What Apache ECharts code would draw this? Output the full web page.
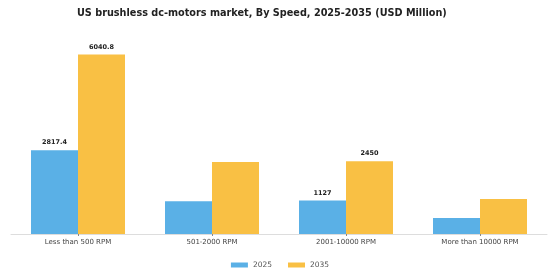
<!DOCTYPE html>
<html>
<head>
<meta charset="utf-8">
<script src="https://cdn.jsdelivr.net/npm/echarts@6/dist/echarts.min.js"></script>
<style>
  html, body { margin: 0; padding: 0; background: #fff; }
  #chart { width: 560px; height: 280px; }
</style>
</head>
<body>
<div id="chart"></div>
<script>
var categories = ['Less than 500 RPM', '501-2000 RPM', '2001-10000 RPM', 'More than 10000 RPM']
var v2025 = [2817.4, 1105, 1127, 540]
var v2035 = [6040.8, 2420, 2450, 1180]
// which bars carry a value label
var labeled = [true, false, true, false]

function withLabels(arr) {
  return arr.map(function (v, i) {
    return { value: v, label: { show: labeled[i] } }
  })
}

var chart = echarts.init(document.getElementById('chart'))
var labelStyle = {
  position: 'top',
  fontSize: 6.5,
  fontWeight: 'bold',
  color: '#222',
  fontFamily: 'DejaVu Sans',
  distance: 4
}
chart.setOption({
  animation: false,
  title: {
    text: 'US brushless dc-motors market, By Speed, 2025-2035 (USD Million)',
    left: 72,
    top: 3,
    textStyle: { fontSize: 9.7, fontWeight: 'bold', color: '#222', fontFamily: 'DejaVu Sans' }
  },
  legend: {
    bottom: 6,
    left: 'center',
    itemWidth: 17,
    itemHeight: 5,
    itemGap: 16,
    icon: 'rect',
    textStyle: { fontSize: 7.5, color: '#555', fontFamily: 'DejaVu Sans' },
    data: ['2025', '2035']
  },
  grid: { left: 11, right: 13, top: 26, bottom: 46 },
  xAxis: {
    type: 'category',
    data: categories,
    axisLine: { lineStyle: { color: '#ddd' } },
    axisTick: { show: true, alignWithLabel: true, length: 2, lineStyle: { color: '#888' } },
    axisLabel: { fontSize: 7, color: '#444', margin: 5, interval: 0, fontFamily: 'DejaVu Sans' }
  },
  yAxis: {
    type: 'value',
    min: 0,
    max: 7000,
    show: false,
    splitLine: { show: false }
  },
  series: [
    {
      name: '2025',
      type: 'bar',
      barWidth: 47,
      barGap: '0%',
      itemStyle: { color: '#5AB0E6' },
      label: labelStyle,
      data: withLabels(v2025)
    },
    {
      name: '2035',
      type: 'bar',
      barWidth: 47,
      barGap: '0%',
      itemStyle: { color: '#F9C044' },
      label: labelStyle,
      data: withLabels(v2035)
    }
  ]
})
</script>
</body>
</html>
